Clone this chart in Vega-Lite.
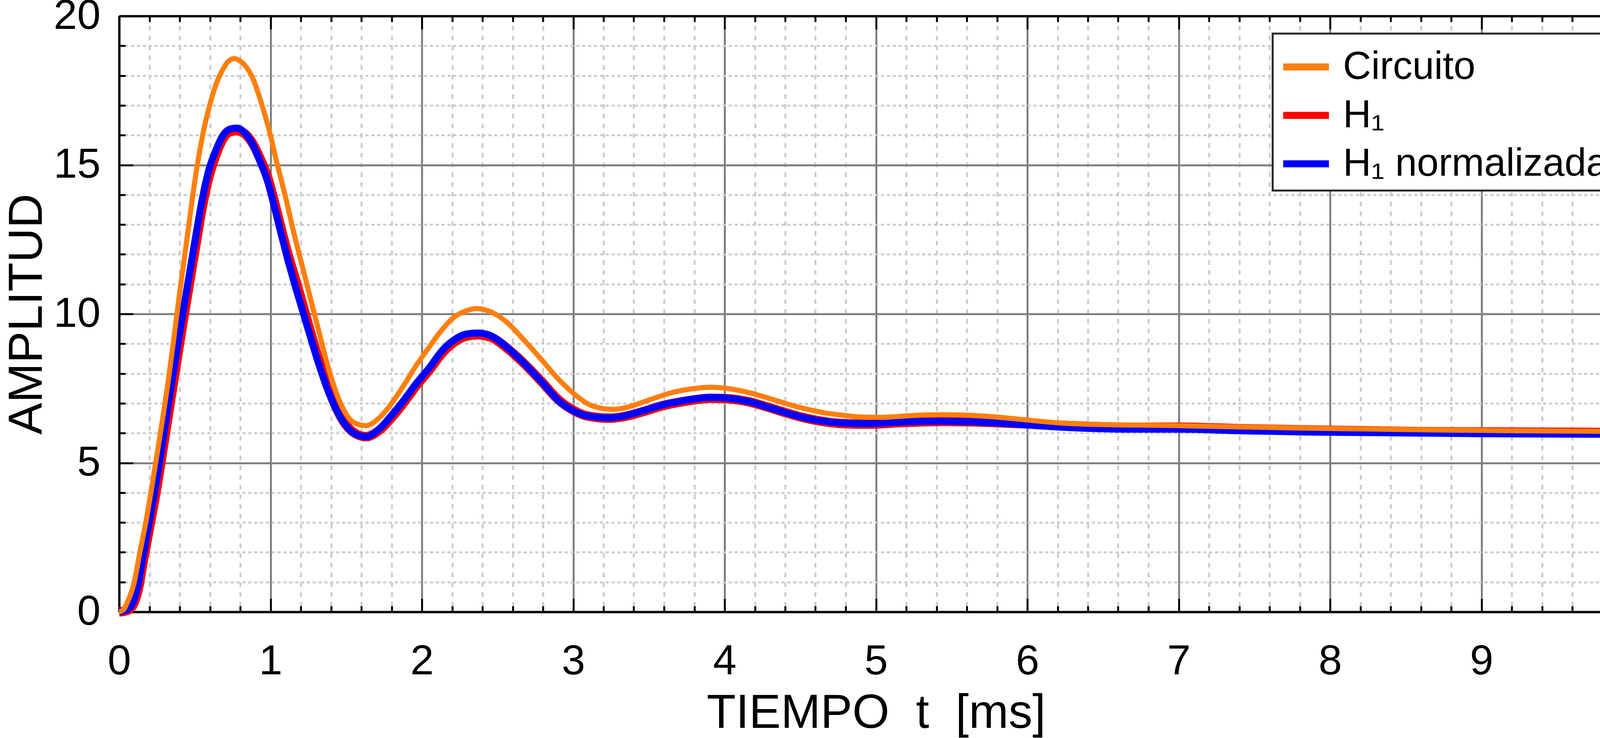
{
  "$schema": "https://vega.github.io/schema/vega-lite/v6.json",
  "width": 3875,
  "height": 1526,
  "autosize": {"type": "none"},
  "padding": {"left": 305, "top": 41, "right": 57, "bottom": 323},
  "background": "white",
  "config": {
    "font": "Liberation Sans",
    "view": {"stroke": null},
    "axis": {
      "labelFont": "Liberation Sans",
      "titleFont": "Liberation Sans",
      "labelColor": "black",
      "titleColor": "black",
      "titleFontWeight": "normal",
      "domainColor": "black",
      "domainWidth": 6,
      "tickColor": "black",
      "tickWidth": 5
    }
  },
  "data": {
    "values": [
      {"t": 0, "amplitud": 0, "serie": "Circuito"},
      {"t": 0.03, "amplitud": 0.08, "serie": "Circuito"},
      {"t": 0.052, "amplitud": 0.3, "serie": "Circuito"},
      {"t": 0.097, "amplitud": 0.94, "serie": "Circuito"},
      {"t": 0.136, "amplitud": 1.97, "serie": "Circuito"},
      {"t": 0.176, "amplitud": 3.0, "serie": "Circuito"},
      {"t": 0.24, "amplitud": 4.96, "serie": "Circuito"},
      {"t": 0.32, "amplitud": 7.6, "serie": "Circuito"},
      {"t": 0.41, "amplitud": 11.1, "serie": "Circuito"},
      {"t": 0.452, "amplitud": 12.67, "serie": "Circuito"},
      {"t": 0.482, "amplitud": 13.81, "serie": "Circuito"},
      {"t": 0.516, "amplitud": 14.99, "serie": "Circuito"},
      {"t": 0.555, "amplitud": 16.08, "serie": "Circuito"},
      {"t": 0.598, "amplitud": 17.0, "serie": "Circuito"},
      {"t": 0.636, "amplitud": 17.65, "serie": "Circuito"},
      {"t": 0.68, "amplitud": 18.16, "serie": "Circuito"},
      {"t": 0.718, "amplitud": 18.46, "serie": "Circuito"},
      {"t": 0.761, "amplitud": 18.57, "serie": "Circuito"},
      {"t": 0.796, "amplitud": 18.5, "serie": "Circuito"},
      {"t": 0.83, "amplitud": 18.35, "serie": "Circuito"},
      {"t": 0.882, "amplitud": 17.92, "serie": "Circuito"},
      {"t": 0.942, "amplitud": 17.04, "serie": "Circuito"},
      {"t": 1.002, "amplitud": 15.95, "serie": "Circuito"},
      {"t": 1.036, "amplitud": 15.2, "serie": "Circuito"},
      {"t": 1.071, "amplitud": 14.5, "serie": "Circuito"},
      {"t": 1.105, "amplitud": 13.8, "serie": "Circuito"},
      {"t": 1.148, "amplitud": 12.85, "serie": "Circuito"},
      {"t": 1.2, "amplitud": 11.8, "serie": "Circuito"},
      {"t": 1.25, "amplitud": 10.8, "serie": "Circuito"},
      {"t": 1.31, "amplitud": 9.6, "serie": "Circuito"},
      {"t": 1.39, "amplitud": 8.05, "serie": "Circuito"},
      {"t": 1.47, "amplitud": 6.92, "serie": "Circuito"},
      {"t": 1.55, "amplitud": 6.36, "serie": "Circuito"},
      {"t": 1.63, "amplitud": 6.25, "serie": "Circuito"},
      {"t": 1.72, "amplitud": 6.52, "serie": "Circuito"},
      {"t": 1.8, "amplitud": 7.0, "serie": "Circuito"},
      {"t": 1.88, "amplitud": 7.6, "serie": "Circuito"},
      {"t": 1.96, "amplitud": 8.25, "serie": "Circuito"},
      {"t": 2.05, "amplitud": 8.9, "serie": "Circuito"},
      {"t": 2.13, "amplitud": 9.45, "serie": "Circuito"},
      {"t": 2.21, "amplitud": 9.88, "serie": "Circuito"},
      {"t": 2.29, "amplitud": 10.1, "serie": "Circuito"},
      {"t": 2.36, "amplitud": 10.18, "serie": "Circuito"},
      {"t": 2.44, "amplitud": 10.1, "serie": "Circuito"},
      {"t": 2.5, "amplitud": 9.95, "serie": "Circuito"},
      {"t": 2.57, "amplitud": 9.68, "serie": "Circuito"},
      {"t": 2.67, "amplitud": 9.15, "serie": "Circuito"},
      {"t": 2.8, "amplitud": 8.41, "serie": "Circuito"},
      {"t": 2.9, "amplitud": 7.82, "serie": "Circuito"},
      {"t": 3.0, "amplitud": 7.34, "serie": "Circuito"},
      {"t": 3.09, "amplitud": 7.0, "serie": "Circuito"},
      {"t": 3.19, "amplitud": 6.83, "serie": "Circuito"},
      {"t": 3.27, "amplitud": 6.8, "serie": "Circuito"},
      {"t": 3.35, "amplitud": 6.86, "serie": "Circuito"},
      {"t": 3.42, "amplitud": 6.97, "serie": "Circuito"},
      {"t": 3.54, "amplitud": 7.18, "serie": "Circuito"},
      {"t": 3.66, "amplitud": 7.37, "serie": "Circuito"},
      {"t": 3.79, "amplitud": 7.49, "serie": "Circuito"},
      {"t": 3.91, "amplitud": 7.54, "serie": "Circuito"},
      {"t": 4.03, "amplitud": 7.49, "serie": "Circuito"},
      {"t": 4.16, "amplitud": 7.36, "serie": "Circuito"},
      {"t": 4.28, "amplitud": 7.19, "serie": "Circuito"},
      {"t": 4.4, "amplitud": 7.0, "serie": "Circuito"},
      {"t": 4.53, "amplitud": 6.82, "serie": "Circuito"},
      {"t": 4.65, "amplitud": 6.69, "serie": "Circuito"},
      {"t": 4.78, "amplitud": 6.6, "serie": "Circuito"},
      {"t": 4.9, "amplitud": 6.54, "serie": "Circuito"},
      {"t": 5.02, "amplitud": 6.53, "serie": "Circuito"},
      {"t": 5.15, "amplitud": 6.56, "serie": "Circuito"},
      {"t": 5.27, "amplitud": 6.6, "serie": "Circuito"},
      {"t": 5.42, "amplitud": 6.62, "serie": "Circuito"},
      {"t": 5.57, "amplitud": 6.61, "serie": "Circuito"},
      {"t": 5.72, "amplitud": 6.57, "serie": "Circuito"},
      {"t": 5.86, "amplitud": 6.51, "serie": "Circuito"},
      {"t": 6.0, "amplitud": 6.44, "serie": "Circuito"},
      {"t": 6.19, "amplitud": 6.35, "serie": "Circuito"},
      {"t": 6.46, "amplitud": 6.29, "serie": "Circuito"},
      {"t": 6.73, "amplitud": 6.27, "serie": "Circuito"},
      {"t": 7.0, "amplitud": 6.25, "serie": "Circuito"},
      {"t": 7.4, "amplitud": 6.21, "serie": "Circuito"},
      {"t": 7.81, "amplitud": 6.17, "serie": "Circuito"},
      {"t": 8.21, "amplitud": 6.14, "serie": "Circuito"},
      {"t": 8.62, "amplitud": 6.11, "serie": "Circuito"},
      {"t": 9.02, "amplitud": 6.09, "serie": "Circuito"},
      {"t": 9.42, "amplitud": 6.07, "serie": "Circuito"},
      {"t": 10.0, "amplitud": 6.06, "serie": "Circuito"},

      {"t": 0, "amplitud": 0, "serie": "H₁"},
      {"t": 0.04, "amplitud": 0.03, "serie": "H₁"},
      {"t": 0.072, "amplitud": 0.1, "serie": "H₁"},
      {"t": 0.126, "amplitud": 0.75, "serie": "H₁"},
      {"t": 0.161, "amplitud": 1.75, "serie": "H₁"},
      {"t": 0.198, "amplitud": 2.75, "serie": "H₁"},
      {"t": 0.24, "amplitud": 3.9, "serie": "H₁"},
      {"t": 0.32, "amplitud": 6.45, "serie": "H₁"},
      {"t": 0.41, "amplitud": 9.35, "serie": "H₁"},
      {"t": 0.508, "amplitud": 12.35, "serie": "H₁"},
      {"t": 0.546, "amplitud": 13.5, "serie": "H₁"},
      {"t": 0.594, "amplitud": 14.62, "serie": "H₁"},
      {"t": 0.64, "amplitud": 15.35, "serie": "H₁"},
      {"t": 0.692, "amplitud": 15.93, "serie": "H₁"},
      {"t": 0.735, "amplitud": 16.12, "serie": "H₁"},
      {"t": 0.778, "amplitud": 16.15, "serie": "H₁"},
      {"t": 0.83, "amplitud": 16.05, "serie": "H₁"},
      {"t": 0.882, "amplitud": 15.72, "serie": "H₁"},
      {"t": 0.924, "amplitud": 15.3, "serie": "H₁"},
      {"t": 0.985, "amplitud": 14.52, "serie": "H₁"},
      {"t": 1.028, "amplitud": 13.72, "serie": "H₁"},
      {"t": 1.071, "amplitud": 12.85, "serie": "H₁"},
      {"t": 1.11, "amplitud": 12.1, "serie": "H₁"},
      {"t": 1.18, "amplitud": 10.9, "serie": "H₁"},
      {"t": 1.25, "amplitud": 9.65, "serie": "H₁"},
      {"t": 1.31, "amplitud": 8.6, "serie": "H₁"},
      {"t": 1.39, "amplitud": 7.4, "serie": "H₁"},
      {"t": 1.47, "amplitud": 6.5, "serie": "H₁"},
      {"t": 1.55, "amplitud": 6.02, "serie": "H₁"},
      {"t": 1.63, "amplitud": 5.88, "serie": "H₁"},
      {"t": 1.72, "amplitud": 6.1, "serie": "H₁"},
      {"t": 1.8, "amplitud": 6.52, "serie": "H₁"},
      {"t": 1.88, "amplitud": 7.02, "serie": "H₁"},
      {"t": 1.96, "amplitud": 7.57, "serie": "H₁"},
      {"t": 2.05, "amplitud": 8.12, "serie": "H₁"},
      {"t": 2.13, "amplitud": 8.66, "serie": "H₁"},
      {"t": 2.21, "amplitud": 9.04, "serie": "H₁"},
      {"t": 2.29, "amplitud": 9.25, "serie": "H₁"},
      {"t": 2.37, "amplitud": 9.3, "serie": "H₁"},
      {"t": 2.45, "amplitud": 9.23, "serie": "H₁"},
      {"t": 2.57, "amplitud": 8.82, "serie": "H₁"},
      {"t": 2.67, "amplitud": 8.36, "serie": "H₁"},
      {"t": 2.8, "amplitud": 7.68, "serie": "H₁"},
      {"t": 2.9, "amplitud": 7.13, "serie": "H₁"},
      {"t": 3.0, "amplitud": 6.77, "serie": "H₁"},
      {"t": 3.09, "amplitud": 6.58, "serie": "H₁"},
      {"t": 3.24, "amplitud": 6.5, "serie": "H₁"},
      {"t": 3.34, "amplitud": 6.56, "serie": "H₁"},
      {"t": 3.46, "amplitud": 6.72, "serie": "H₁"},
      {"t": 3.59, "amplitud": 6.92, "serie": "H₁"},
      {"t": 3.74, "amplitud": 7.07, "serie": "H₁"},
      {"t": 3.91, "amplitud": 7.17, "serie": "H₁"},
      {"t": 4.03, "amplitud": 7.15, "serie": "H₁"},
      {"t": 4.16, "amplitud": 7.05, "serie": "H₁"},
      {"t": 4.28, "amplitud": 6.88, "serie": "H₁"},
      {"t": 4.4, "amplitud": 6.69, "serie": "H₁"},
      {"t": 4.53, "amplitud": 6.51, "serie": "H₁"},
      {"t": 4.65, "amplitud": 6.39, "serie": "H₁"},
      {"t": 4.78, "amplitud": 6.32, "serie": "H₁"},
      {"t": 4.95, "amplitud": 6.3, "serie": "H₁"},
      {"t": 5.15, "amplitud": 6.35, "serie": "H₁"},
      {"t": 5.42, "amplitud": 6.39, "serie": "H₁"},
      {"t": 5.64, "amplitud": 6.38, "serie": "H₁"},
      {"t": 5.89, "amplitud": 6.33, "serie": "H₁"},
      {"t": 6.19, "amplitud": 6.27, "serie": "H₁"},
      {"t": 6.46, "amplitud": 6.22, "serie": "H₁"},
      {"t": 6.73, "amplitud": 6.2, "serie": "H₁"},
      {"t": 7.0, "amplitud": 6.2, "serie": "H₁"},
      {"t": 7.4, "amplitud": 6.15, "serie": "H₁"},
      {"t": 7.81, "amplitud": 6.11, "serie": "H₁"},
      {"t": 8.21, "amplitud": 6.08, "serie": "H₁"},
      {"t": 8.62, "amplitud": 6.05, "serie": "H₁"},
      {"t": 9.02, "amplitud": 6.04, "serie": "H₁"},
      {"t": 9.42, "amplitud": 6.03, "serie": "H₁"},
      {"t": 10.0, "amplitud": 6.02, "serie": "H₁"},

      {"t": 0, "amplitud": 0, "serie": "H₁ normalizada"},
      {"t": 0.04, "amplitud": 0.05, "serie": "H₁ normalizada"},
      {"t": 0.072, "amplitud": 0.15, "serie": "H₁ normalizada"},
      {"t": 0.126, "amplitud": 0.94, "serie": "H₁ normalizada"},
      {"t": 0.161, "amplitud": 1.97, "serie": "H₁ normalizada"},
      {"t": 0.198, "amplitud": 3.0, "serie": "H₁ normalizada"},
      {"t": 0.24, "amplitud": 4.2, "serie": "H₁ normalizada"},
      {"t": 0.32, "amplitud": 6.8, "serie": "H₁ normalizada"},
      {"t": 0.41, "amplitud": 9.7, "serie": "H₁ normalizada"},
      {"t": 0.508, "amplitud": 12.67, "serie": "H₁ normalizada"},
      {"t": 0.546, "amplitud": 13.77, "serie": "H₁ normalizada"},
      {"t": 0.594, "amplitud": 14.86, "serie": "H₁ normalizada"},
      {"t": 0.64, "amplitud": 15.51, "serie": "H₁ normalizada"},
      {"t": 0.692, "amplitud": 16.04, "serie": "H₁ normalizada"},
      {"t": 0.735, "amplitud": 16.21, "serie": "H₁ normalizada"},
      {"t": 0.778, "amplitud": 16.24, "serie": "H₁ normalizada"},
      {"t": 0.83, "amplitud": 16.08, "serie": "H₁ normalizada"},
      {"t": 0.882, "amplitud": 15.69, "serie": "H₁ normalizada"},
      {"t": 0.924, "amplitud": 15.2, "serie": "H₁ normalizada"},
      {"t": 0.985, "amplitud": 14.38, "serie": "H₁ normalizada"},
      {"t": 1.028, "amplitud": 13.55, "serie": "H₁ normalizada"},
      {"t": 1.071, "amplitud": 12.67, "serie": "H₁ normalizada"},
      {"t": 1.11, "amplitud": 11.9, "serie": "H₁ normalizada"},
      {"t": 1.18, "amplitud": 10.65, "serie": "H₁ normalizada"},
      {"t": 1.25, "amplitud": 9.46, "serie": "H₁ normalizada"},
      {"t": 1.31, "amplitud": 8.46, "serie": "H₁ normalizada"},
      {"t": 1.39, "amplitud": 7.3, "serie": "H₁ normalizada"},
      {"t": 1.47, "amplitud": 6.46, "serie": "H₁ normalizada"},
      {"t": 1.55, "amplitud": 6.0, "serie": "H₁ normalizada"},
      {"t": 1.63, "amplitud": 5.88, "serie": "H₁ normalizada"},
      {"t": 1.72, "amplitud": 6.15, "serie": "H₁ normalizada"},
      {"t": 1.8, "amplitud": 6.6, "serie": "H₁ normalizada"},
      {"t": 1.88, "amplitud": 7.1, "serie": "H₁ normalizada"},
      {"t": 1.96, "amplitud": 7.65, "serie": "H₁ normalizada"},
      {"t": 2.05, "amplitud": 8.2, "serie": "H₁ normalizada"},
      {"t": 2.13, "amplitud": 8.75, "serie": "H₁ normalizada"},
      {"t": 2.21, "amplitud": 9.12, "serie": "H₁ normalizada"},
      {"t": 2.29, "amplitud": 9.32, "serie": "H₁ normalizada"},
      {"t": 2.37, "amplitud": 9.36, "serie": "H₁ normalizada"},
      {"t": 2.45, "amplitud": 9.28, "serie": "H₁ normalizada"},
      {"t": 2.57, "amplitud": 8.85, "serie": "H₁ normalizada"},
      {"t": 2.67, "amplitud": 8.37, "serie": "H₁ normalizada"},
      {"t": 2.8, "amplitud": 7.67, "serie": "H₁ normalizada"},
      {"t": 2.9, "amplitud": 7.1, "serie": "H₁ normalizada"},
      {"t": 3.0, "amplitud": 6.75, "serie": "H₁ normalizada"},
      {"t": 3.09, "amplitud": 6.58, "serie": "H₁ normalizada"},
      {"t": 3.24, "amplitud": 6.51, "serie": "H₁ normalizada"},
      {"t": 3.34, "amplitud": 6.58, "serie": "H₁ normalizada"},
      {"t": 3.46, "amplitud": 6.75, "serie": "H₁ normalizada"},
      {"t": 3.59, "amplitud": 6.95, "serie": "H₁ normalizada"},
      {"t": 3.74, "amplitud": 7.1, "serie": "H₁ normalizada"},
      {"t": 3.91, "amplitud": 7.2, "serie": "H₁ normalizada"},
      {"t": 4.03, "amplitud": 7.17, "serie": "H₁ normalizada"},
      {"t": 4.16, "amplitud": 7.06, "serie": "H₁ normalizada"},
      {"t": 4.28, "amplitud": 6.88, "serie": "H₁ normalizada"},
      {"t": 4.4, "amplitud": 6.69, "serie": "H₁ normalizada"},
      {"t": 4.53, "amplitud": 6.51, "serie": "H₁ normalizada"},
      {"t": 4.65, "amplitud": 6.4, "serie": "H₁ normalizada"},
      {"t": 4.78, "amplitud": 6.34, "serie": "H₁ normalizada"},
      {"t": 4.95, "amplitud": 6.32, "serie": "H₁ normalizada"},
      {"t": 5.15, "amplitud": 6.37, "serie": "H₁ normalizada"},
      {"t": 5.42, "amplitud": 6.4, "serie": "H₁ normalizada"},
      {"t": 5.64, "amplitud": 6.38, "serie": "H₁ normalizada"},
      {"t": 5.89, "amplitud": 6.31, "serie": "H₁ normalizada"},
      {"t": 6.19, "amplitud": 6.21, "serie": "H₁ normalizada"},
      {"t": 6.46, "amplitud": 6.15, "serie": "H₁ normalizada"},
      {"t": 6.73, "amplitud": 6.13, "serie": "H₁ normalizada"},
      {"t": 7.0, "amplitud": 6.13, "serie": "H₁ normalizada"},
      {"t": 7.4, "amplitud": 6.08, "serie": "H₁ normalizada"},
      {"t": 7.81, "amplitud": 6.04, "serie": "H₁ normalizada"},
      {"t": 8.21, "amplitud": 6.02, "serie": "H₁ normalizada"},
      {"t": 8.62, "amplitud": 6.0, "serie": "H₁ normalizada"},
      {"t": 9.02, "amplitud": 5.98, "serie": "H₁ normalizada"},
      {"t": 9.42, "amplitud": 5.97, "serie": "H₁ normalizada"},
      {"t": 10.0, "amplitud": 5.96, "serie": "H₁ normalizada"}
    ]
  },
  "encoding": {
    "color": {
      "field": "serie",
      "type": "nominal",
      "scale": {
        "domain": ["Circuito", "H₁", "H₁ normalizada"],
        "range": ["#ff7f0e", "#ff0000", "#0000ff"]
      },
      "legend": {
        "orient": "top-right",
        "offset": 45,
        "title": null,
        "symbolType": "stroke",
        "symbolSize": 13689,
        "symbolStrokeWidth": 18,
        "labelFont": "Liberation Sans",
        "labelFontSize": 100,
        "labelColor": "black",
        "labelOffset": 27,
        "labelLimit": 1200,
        "rowPadding": 6,
        "padding": 18,
        "strokeColor": "#262626",
        "fillColor": "white",
        "encode": {"legend": {"update": {"strokeWidth": {"value": 5}}}}
      }
    }
  },
  "layer": [
    {
      "transform": [{"filter": "datum.serie == 'H₁'"}],
      "mark": {"type": "line", "strokeWidth": 24, "interpolate": "monotone"},
      "encoding": {
        "x": {
          "field": "t",
          "type": "quantitative",
          "scale": {"domain": [0, 10], "nice": false, "zero": false},
          "axis": {
            "orient": "bottom",
            "values": [0, 0.2, 0.4, 0.6, 0.8, 1, 1.2, 1.4, 1.6, 1.8, 2, 2.2, 2.4, 2.6, 2.8, 3, 3.2, 3.4, 3.6, 3.8, 4, 4.2, 4.4, 4.6, 4.8, 5, 5.2, 5.4, 5.6, 5.8, 6, 6.2, 6.4, 6.6, 6.8, 7, 7.2, 7.4, 7.6, 7.8, 8, 8.2, 8.4, 8.6, 8.8, 9, 9.2, 9.4, 9.6, 9.8, 10],
            "labelExpr": "round(datum.value) == datum.value ? format(datum.value, 'd') : ''",
            "labelFlush": false,
            "labelOverlap": false,
            "labelFontSize": 108,
            "labelPadding": 108,
            "grid": true,
            "gridColor": {"condition": {"test": "round(datum.value) == datum.value", "value": "#808080"}, "value": "#cccccc"},
            "gridDash": {"condition": {"test": "round(datum.value) == datum.value", "value": []}, "value": [12, 13]},
            "gridOpacity": {"condition": {"test": "datum.value == 0 || datum.value == 10", "value": 0}, "value": 1},
            "gridWidth": 5,
            "tickSize": {"condition": {"test": "round(datum.value) == datum.value", "value": -34}, "value": -15},
            "title": "TIEMPO\u00a0\u00a0t\u00a0\u00a0[ms]",
            "titleFontSize": 122,
            "titlePadding": 0
          }
        },
        "y": {
          "field": "amplitud",
          "type": "quantitative",
          "scale": {"domain": [0, 20], "nice": false},
          "axis": {
            "orient": "left",
            "values": [0, 1, 2, 3, 4, 5, 6, 7, 8, 9, 10, 11, 12, 13, 14, 15, 16, 17, 18, 19, 20],
            "labelExpr": "datum.value % 5 == 0 ? format(datum.value, 'd') : ''",
            "labelOverlap": false,
            "labelFlush": false,
            "labelFontSize": 108,
            "labelPadding": 84,
            "grid": true,
            "gridColor": {"condition": {"test": "datum.value % 5 == 0", "value": "#808080"}, "value": "#cccccc"},
            "gridDash": {"condition": {"test": "datum.value % 5 == 0", "value": []}, "value": [8, 7]},
            "gridOpacity": {"condition": {"test": "datum.value == 0 || datum.value == 20", "value": 0}, "value": 1},
            "gridWidth": 5,
            "tickSize": {"condition": {"test": "datum.value % 5 == 0", "value": -36}, "value": -16},
            "title": "AMPLITUD",
            "titleFontSize": 122,
            "titlePadding": 4
          }
        }
      }
    },
    {
      "transform": [{"filter": "datum.serie == 'H₁ normalizada'"}],
      "mark": {"type": "line", "strokeWidth": 18, "interpolate": "monotone"},
      "encoding": {
        "x": {"field": "t", "type": "quantitative", "scale": {"domain": [0, 10], "nice": false, "zero": false}, "axis": null},
        "y": {"field": "amplitud", "type": "quantitative", "scale": {"domain": [0, 20], "nice": false}, "axis": null}
      }
    },
    {
      "transform": [{"filter": "datum.serie == 'Circuito'"}],
      "mark": {"type": "line", "strokeWidth": 13, "interpolate": "monotone"},
      "encoding": {
        "x": {
          "field": "t",
          "type": "quantitative",
          "scale": {"domain": [0, 10], "nice": false, "zero": false},
          "axis": {
            "orient": "top",
            "values": [0, 0.2, 0.4, 0.6, 0.8, 1, 1.2, 1.4, 1.6, 1.8, 2, 2.2, 2.4, 2.6, 2.8, 3, 3.2, 3.4, 3.6, 3.8, 4, 4.2, 4.4, 4.6, 4.8, 5, 5.2, 5.4, 5.6, 5.8, 6, 6.2, 6.4, 6.6, 6.8, 7, 7.2, 7.4, 7.6, 7.8, 8, 8.2, 8.4, 8.6, 8.8, 9, 9.2, 9.4, 9.6, 9.8, 10],
            "labels": false,
            "grid": false,
            "title": null,
            "tickSize": {"condition": {"test": "round(datum.value) == datum.value", "value": -34}, "value": -15}
          }
        },
        "y": {
          "field": "amplitud",
          "type": "quantitative",
          "scale": {"domain": [0, 20], "nice": false},
          "axis": {
            "orient": "right",
            "values": [0, 1, 2, 3, 4, 5, 6, 7, 8, 9, 10, 11, 12, 13, 14, 15, 16, 17, 18, 19, 20],
            "labels": false,
            "grid": false,
            "title": null,
            "tickSize": {"condition": {"test": "datum.value % 5 == 0", "value": -36}, "value": -16}
          }
        }
      }
    }
  ],
  "resolve": {"axis": {"x": "independent", "y": "independent"}}
}
